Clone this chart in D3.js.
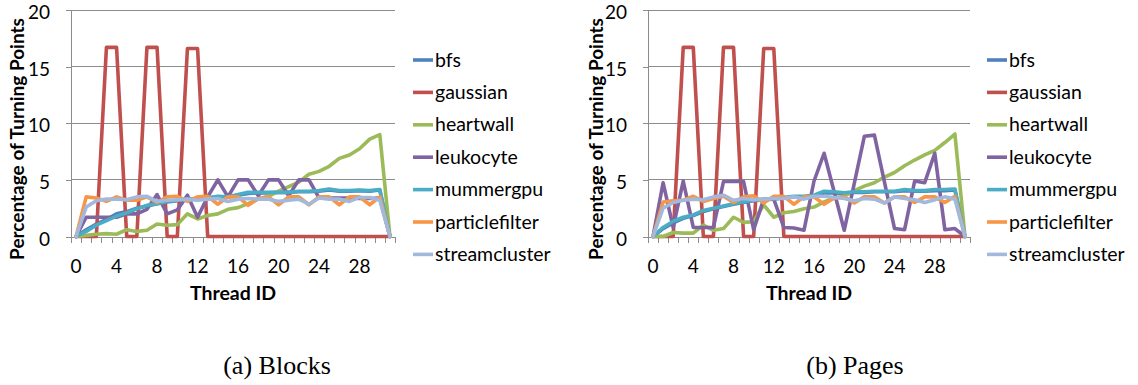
<!DOCTYPE html>
<html>
<head>
<meta charset="utf-8">
<script src="https://cdn.jsdelivr.net/npm/d3@7"></script>
<style>
  body { margin: 0; background: #fff; }
  svg { display: block; }
</style>
</head>
<body>
<svg id="chart" width="1138" height="385"></svg>
<script>
// ---------- data ----------
const threadIds = d3.range(0, 32);
const xTickLabels = [0, 4, 8, 12, 16, 20, 24, 28];
const yTickValues = [0, 5, 10, 15, 20];
const seriesNames = ["bfs", "gaussian", "heartwall", "leukocyte", "mummergpu", "particlefilter", "streamcluster"];
const seriesColors = ["#4F81BD", "#C0504D", "#9BBB59", "#8064A2", "#4BACC6", "#F79646", "#A2B8DC"];
const panelCaptions = ["(a) Blocks", "(b) Pages"];

// (a) Blocks
const blocksBfs = [0,0.6,1.1,1.5,2.0,2.2,2.5,2.7,2.9,3.05,3.15,3.25,3.3,3.4,3.5,3.5,3.65,3.8,3.85,3.85,3.9,3.9,3.95,3.95,4.0,4.1,4.0,4.0,4.05,4.0,4.1,0];
const blocksGaussian = [0,0,0,16.7,16.7,0,0,16.7,16.7,0,0,16.6,16.6,0,0,0,0,0,0,0,0,0,0,0,0,0,0,0,0,0,0,0];
const blocksHeartwall = [0,0.1,0.2,0.25,0.2,0.6,0.45,0.55,1.1,1.0,1.05,2.0,1.55,1.85,2.0,2.4,2.55,2.9,3.3,3.55,4.0,4.4,4.8,5.5,5.75,6.2,6.9,7.2,7.75,8.6,9.0,0];
const blocksLeukocyte = [0,1.7,1.7,1.7,1.7,2.0,2.0,2.4,3.7,2.0,2.35,3.65,1.7,3.5,5.0,3.5,5.0,5.0,3.6,5.0,5.0,3.6,5.0,5.0,3.4,3.4,3.4,3.4,3.35,3.35,3.4,0];
const blocksMummergpu = [0,0.45,1.0,1.4,1.8,2.1,2.45,2.75,2.9,3.1,3.2,3.3,3.35,3.4,3.55,3.5,3.7,3.9,3.9,3.9,3.9,3.9,4.0,4.0,4.05,4.2,4.05,4.05,4.1,4.05,4.15,0];
const blocksParticlefilter = [0,3.5,3.4,3.1,3.5,3.2,3.2,3.5,3.0,3.5,3.55,3.1,3.5,3.55,2.85,3.5,3.5,2.75,3.35,3.5,2.8,3.5,3.5,2.8,3.5,3.5,2.8,3.5,3.5,2.8,3.5,0];
const blocksStreamcluster = [0,2.6,3.15,3.3,3.3,3.25,3.5,3.55,3.1,3.2,3.25,3.3,3.2,3.3,3.35,3.1,3.3,3.35,3.3,3.3,3.1,3.2,3.3,2.85,3.4,3.3,3.3,3.1,3.45,3.45,3.2,0];

// (b) Pages
const pagesBfs = [0,0.7,1.2,1.6,1.85,2.2,2.45,2.65,2.85,3.0,3.15,3.25,3.3,3.4,3.5,3.5,3.6,3.85,3.85,3.8,3.9,3.9,3.95,3.95,3.95,4.05,4.0,4.0,4.05,4.05,4.1,0];
const pagesGaussian = [0,0,0,16.7,16.7,0,0,16.7,16.7,0,0,16.6,16.6,0,0,0,0,0,0,0,0,0,0,0,0,0,0,0,0,0,0,0];
const pagesHeartwall = [0,0,0.35,0.3,0.3,1.0,0.55,0.7,1.7,1.25,1.3,2.8,1.7,2.1,2.2,2.45,2.6,3.05,3.4,3.55,4.05,4.45,4.75,5.25,5.65,6.25,6.75,7.2,7.6,8.3,9.05,0];
const pagesLeukocyte = [0,4.75,0.8,4.9,0.8,0.8,0.8,4.85,4.85,4.85,0.6,3.3,3.3,0.8,0.75,0.55,4.9,7.35,3.95,0.55,4.7,8.85,8.95,4.8,0.7,0.6,4.9,4.75,7.35,0.6,0.7,0];
const pagesMummergpu = [0,0.8,1.35,1.7,1.9,2.3,2.5,2.7,2.9,3.05,3.2,3.3,3.35,3.45,3.55,3.55,3.65,4.0,3.95,3.85,3.95,3.95,4.0,4.0,4.0,4.15,4.05,4.05,4.15,4.15,4.2,0];
const pagesParticlefilter = [0,3.05,3.15,3.2,3.55,3.1,3.35,3.55,3.0,3.5,3.6,2.95,3.55,3.55,2.85,3.5,3.5,2.85,3.4,3.5,2.95,3.5,3.5,2.95,3.5,3.5,3.0,3.5,3.5,3.0,3.55,0];
const pagesStreamcluster = [0,2.5,3.0,3.2,3.3,3.25,3.5,3.65,3.2,3.35,3.25,3.3,3.35,3.35,3.5,3.3,3.55,3.55,3.45,3.35,3.15,3.35,3.3,2.95,3.5,3.35,3.25,3.0,3.25,3.5,3.3,0];

const panels = [
  { caption: panelCaptions[0], series: [blocksBfs, blocksGaussian, blocksHeartwall, blocksLeukocyte, blocksMummergpu, blocksParticlefilter, blocksStreamcluster] },
  { caption: panelCaptions[1], series: [pagesBfs, pagesGaussian, pagesHeartwall, pagesLeukocyte, pagesMummergpu, pagesParticlefilter, pagesStreamcluster] }
];

// ---------- layout ----------
const svg = d3.select("#chart");
const FONT = "Lato, 'Open Sans', sans-serif";
const gridColor = "#8c8c8c";
const panelLayout = [
  { left: 71, width: 324, legendX: 413, titleX: 24, captionX: 277 },
  { left: 648, width: 322, legendX: 987, titleX: 603, captionX: 855 }
];
const plotTop = 10, plotBottom = 236.5;

panels.forEach((panel, pi) => {
  const L = panelLayout[pi];
  const g = svg.append("g").attr("transform", `translate(${L.left},0)`);
  const x = d3.scaleBand().domain(threadIds).range([0, L.width]).padding(0);
  const y = d3.scaleLinear().domain([0, 20]).range([plotBottom, plotTop]);
  const cx = i => x(i) + x.bandwidth() / 2;

  // gridlines
  g.append("g").selectAll("line").data(yTickValues.filter(v => v > 0)).join("line")
    .attr("x1", 0).attr("x2", L.width)
    .attr("y1", d => y(d)).attr("y2", d => y(d))
    .attr("stroke", gridColor).attr("stroke-width", 1).attr("shape-rendering", "crispEdges");

  // y axis
  const yAxis = g.append("g").call(d3.axisLeft(y).tickValues(yTickValues).tickSize(5).tickPadding(16).tickSizeOuter(0));
  yAxis.select(".domain").attr("stroke", gridColor).attr("shape-rendering", "crispEdges");
  yAxis.selectAll(".tick line").attr("stroke", gridColor).attr("shape-rendering", "crispEdges");
  yAxis.selectAll(".tick text").attr("dy", "0.45em").attr("font-size", 19).attr("fill", "#000").attr("font-family", FONT);

  // x axis: ticks at category boundaries
  const xBound = d3.scaleLinear().domain([0, threadIds.length]).range([0, L.width]);
  const xAxisTicks = g.append("g").attr("transform", `translate(0,${plotBottom})`)
    .call(d3.axisBottom(xBound).tickValues(d3.range(0, threadIds.length + 1)).tickSize(6).tickFormat("").tickSizeOuter(0));
  xAxisTicks.select(".domain").attr("stroke", gridColor).attr("shape-rendering", "crispEdges");
  xAxisTicks.selectAll(".tick line").attr("stroke", gridColor).attr("shape-rendering", "crispEdges");

  const xAxisLabels = g.append("g").attr("transform", `translate(0,${plotBottom})`)
    .call(d3.axisBottom(x).tickValues(xTickLabels).tickSize(0).tickPadding(0));
  xAxisLabels.select(".domain").remove();
  xAxisLabels.selectAll(".tick text").attr("dy", null).attr("y", 36)
    .attr("font-size", 19).attr("fill", "#000").attr("font-family", FONT);

  // lines
  const line = d3.line().x((d, i) => cx(threadIds[i])).y(d => y(d));
  panel.series.forEach((vals, si) => {
    g.append("path").datum(vals)
      .attr("d", line)
      .attr("fill", "none")
      .attr("stroke", seriesColors[si])
      .attr("stroke-width", 3.6)
      .attr("stroke-linejoin", "round")
      .attr("stroke-linecap", "round");
  });

  // axis titles
  g.append("text")
    .attr("x", L.width / 2).attr("y", 300)
    .attr("text-anchor", "middle")
    .attr("font-family", FONT).attr("font-weight", "bold").attr("font-size", 19.5)
    .text("Thread ID");
  svg.append("text")
    .attr("transform", `translate(${L.titleX},139) rotate(-90)`)
    .attr("text-anchor", "middle")
    .attr("font-family", FONT).attr("font-weight", "bold").attr("font-size", 19)
    .text("Percentage of Turning Points");

  // legend
  const lg = svg.append("g").attr("transform", `translate(${L.legendX},0)`);
  seriesNames.forEach((name, si) => {
    const ly = 60 + si * 32.4;
    lg.append("line").attr("x1", 0).attr("x2", 20).attr("y1", ly).attr("y2", ly)
      .attr("stroke", seriesColors[si]).attr("stroke-width", 3.6);
    lg.append("text").attr("x", 22).attr("y", ly + 6.5)
      .attr("font-family", FONT).attr("font-size", 19.5).attr("fill", "#000")
      .text(name);
  });

  // caption
  svg.append("text")
    .attr("x", L.captionX).attr("y", 374)
    .attr("text-anchor", "middle")
    .attr("font-family", "'Liberation Serif', 'DejaVu Serif', serif")
    .attr("font-size", 26)
    .text(panel.caption);
});
</script>
</body>
</html>
